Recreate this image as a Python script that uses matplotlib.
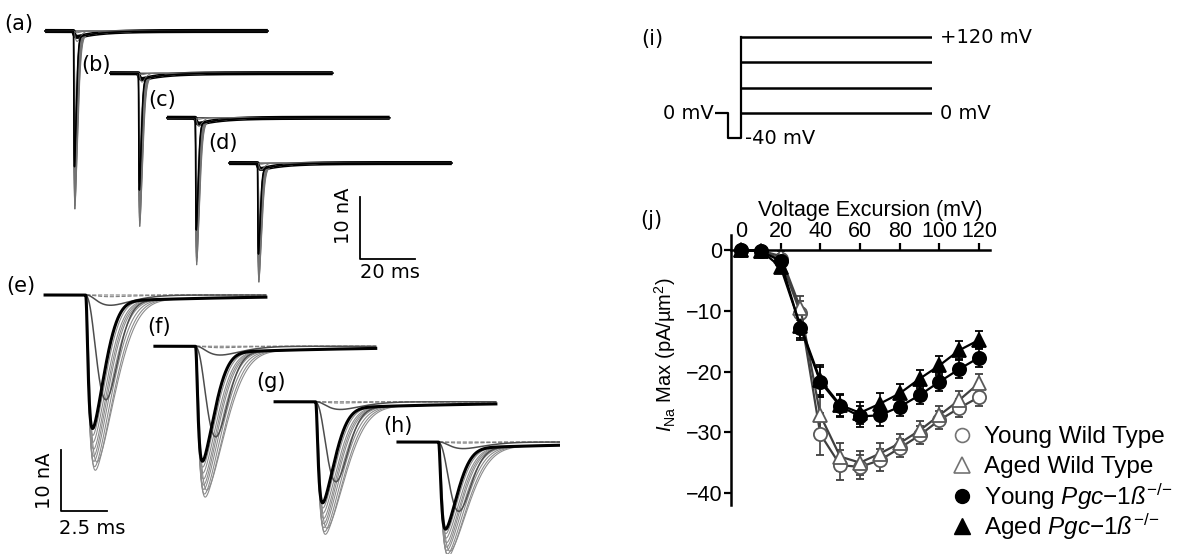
import numpy as np
import matplotlib
matplotlib.use('Agg')
import matplotlib.pyplot as plt
from matplotlib.lines import Line2D

plt.rcParams['font.family'] = ['DejaVu Sans']
plt.rcParams['mathtext.fontset'] = 'custom'
plt.rcParams['mathtext.rm'] = 'Liberation Sans'
plt.rcParams['mathtext.it'] = 'Liberation Sans:italic'
plt.rcParams['mathtext.bf'] = 'Liberation Sans:bold'

W, H = 1180, 554

# ============================================================
# DATA
# ============================================================
# (j) peak Na current density vs voltage excursion
volt = [0, 10, 20, 30, 40, 50, 60, 70, 80, 90, 100, 110, 120]
ywt = [0.0, -0.1, -1.5, -10.4, -30.3, -35.4, -35.7, -34.6, -32.6, -30.5, -28.0, -26.0, -24.2]
awt = [0.0, -0.1, -1.0, -9.6, -27.2, -34.0, -35.0, -33.5, -31.8, -29.7, -27.2, -24.7, -21.9]
ypgc = [0.0, -0.2, -1.8, -12.8, -21.7, -25.7, -27.4, -27.2, -25.8, -23.9, -21.7, -19.6, -17.7]
apgc = [0.0, -0.1, -2.8, -12.5, -21.4, -25.5, -26.8, -25.3, -23.6, -21.2, -19.0, -16.5, -14.8]
ywt_err = [0.3, 0.3, 0.8, 2.0, 3.5, 2.5, 2.0, 1.8, 1.5, 1.5, 1.5, 1.5, 1.5]
awt_err = [0.3, 0.3, 0.8, 2.0, 3.0, 2.3, 2.0, 1.8, 1.5, 1.5, 1.5, 1.5, 1.5]
ypgc_err = [0.3, 0.3, 0.8, 2.0, 2.5, 1.8, 1.8, 1.8, 1.6, 1.5, 1.5, 1.5, 1.5]
apgc_err = [0.3, 0.3, 0.8, 2.0, 2.5, 1.8, 1.8, 1.8, 1.6, 1.5, 1.5, 1.5, 1.5]
group_names = ['Young Wild Type', 'Aged Wild Type',
               r'Young $\mathit{Pgc{-}1ß}^{{-}/{-}}$', r'Aged $\mathit{Pgc{-}1ß}^{{-}/{-}}$']

# (a)-(h) current families: relative peak and kinetics per voltage step
rel_amp = [0.0, 0.01, 0.06, 0.58, 0.95, 1.0, 0.98, 0.95, 0.92, 0.88, 0.84, 0.80, 0.76]
tau_act = [0.5, 0.5, 0.5, 0.7, 0.15, 0.12, 0.11, 0.1, 0.1, 0.1, 0.09, 0.09, 0.09]
tau_inact = [2.5, 2.5, 2.5, 1.4, 1.9, 1.8, 1.7, 1.6, 1.5, 1.45, 1.4, 1.3, 1.2]
peak_slow_nA = [28, 24, 21, 18]      # (e) (f) (g) (h)
peak_fast_nA = [28, 24, 23, 18.5]    # (a) (b) (c) (d)
tail_nA = 1.2
tail_ms = 8.0
onset_fast_ms = 10.3
onset_slow_ms = 2.2
window_fast_ms = 81
window_slow_ms = 12

# (i) voltage protocol
hold_mv = 0
prepulse_mv = -40
step_levels = [0, 40, 80, 120]
hold_end, pre_end, test_end = 2.0, 4.0, 33.4


def na_family(t, onset, peak):
    """Current traces (nA) for each voltage step, plus the shared slow tail."""
    tt = np.clip(t - onset, 0, None)
    tg = np.linspace(0, 12, 24001)
    tail = -tail_nA * (1 - np.exp(-tt / 0.5)) * np.exp(-tt / tail_ms)
    out = []
    for ra, tm, th in zip(rel_amp, tau_act, tau_inact):
        ref = ((1 - np.exp(-tg / tm)) ** 3 * np.exp(-(tg / th) ** 2)).max()
        shape = (1 - np.exp(-tt / tm)) ** 3 * np.exp(-(tt / th) ** 2) / ref
        out.append(-peak * ra * shape + tail * (ra > 0.3))
    return out, tail


fig = plt.figure(figsize=(W / 100, H / 100), dpi=100)


def fx(px):
    return px / W


def fy(py):
    return 1 - py / H


# ============================================================
# (a)-(d): long time base
# ============================================================
px_ms_fast, px_nA_fast = 2.75, 6.2
ax_f = fig.add_axes([0, fy(290), fx(560), 290 / H])
ax_f.set_xlim(0, 560 / px_ms_fast)
ax_f.set_ylim(-290 / px_nA_fast, 0)
ax_f.axis('off')
fast_off_t = [16.4, 40.0, 60.7, 83.3]
fast_off_i = [-5.0, -11.8, -19.0, -26.3]
t_fast = np.linspace(0, window_fast_ms, 16201)
for pk, ot, oi in zip(peak_fast_nA, fast_off_t, fast_off_i):
    fam, tail = na_family(t_fast, onset_fast_ms, pk)
    ax_f.plot(t_fast + ot, tail + oi, color='black', lw=3.0, solid_capstyle='butt')
    for k, tr in enumerate(fam):
        ax_f.plot(t_fast + ot, tr + oi, color='0.45' if 0 < k < len(fam) - 1 else 'black', lw=0.7)
    ax_f.plot(t_fast + ot, fam[-1] + oi, color='black', lw=1.1)

# scale bar 10 nA / 20 ms
sb_t, sb_i = 130.9, -41.8
ax_f.plot([sb_t, sb_t, sb_t + 20], [sb_i + 10, sb_i, sb_i], color='black', lw=1.3)
fig.text(fx(343), fy(216), '10 nA', rotation=90, ha='center', va='center', fontsize=14)
fig.text(fx(390), fy(273), '20 ms', ha='center', va='center', fontsize=14)

# ============================================================
# (e)-(h): short time base
# ============================================================
px_ms_slow, px_nA_slow = 18.4, 6.1
ax_s = fig.add_axes([0, 0, fx(560), 284 / H])
ax_s.set_xlim(0, 560 / px_ms_slow)
ax_s.set_ylim(-284 / px_nA_slow, 0)
ax_s.axis('off')
slow_off_t = [2.45, 8.42, 14.95, 21.63]
slow_off_i = [-4.1, -12.5, -21.6, -28.2]
t_slow = np.linspace(0, window_slow_ms, 6001)
for pk, ot, oi in zip(peak_slow_nA, slow_off_t, slow_off_i):
    fam, tail = na_family(t_slow, onset_slow_ms, pk)
    for k, tr in enumerate(fam[:-1]):
        if rel_amp[k] < 0.05:
            ax_s.plot(t_slow + ot, tr + oi, color='0.5', lw=0.8, ls='--')
        elif rel_amp[k] < 0.7:
            ax_s.plot(t_slow + ot, tr + oi, color='0.3', lw=1.1, zorder=3)
        else:
            ax_s.plot(t_slow + ot, tr + oi, color='0.55', lw=0.8)
    ax_s.plot(t_slow + ot, fam[-1] + oi, color='black', lw=2.2, zorder=4)

sb2_t, sb2_i = 61 / px_ms_slow, -(511 - 270) / px_nA_slow
ax_s.plot([sb2_t, sb2_t, sb2_t + 2.5], [sb2_i + 10, sb2_i, sb2_i], color='black', lw=1.3)
fig.text(fx(45), fy(481), '10 nA', rotation=90, ha='center', va='center', fontsize=14)
fig.text(fx(92), fy(528), '2.5 ms', ha='center', va='center', fontsize=14)

# panel letters
letters = ['(a)', '(b)', '(c)', '(d)', '(e)', '(f)', '(g)', '(h)', '(i)', '(j)']
letter_px = [(19, 24), (96, 65), (162, 100), (223, 143),
             (21, 286), (159, 327), (271, 382), (398, 426),
             (652, 39), (651, 220)]
for lab, (x, y) in zip(letters, letter_px):
    fig.text(fx(x), fy(y), lab, ha='center', va='center', fontsize=15)

# ============================================================
# (i): voltage protocol
# ============================================================
ax_p = fig.add_axes([fx(715), fy(144.7), fx(217), 114 / H])
ax_p.set_xlim(0, test_end)
ax_p.set_ylim(-50, 130)
ax_p.axis('off')
ax_p.plot([0, hold_end, hold_end, pre_end, pre_end],
          [hold_mv, hold_mv, prepulse_mv, prepulse_mv, max(step_levels)],
          color='black', lw=1.6)
for lv in step_levels:
    ax_p.plot([pre_end, test_end], [lv, lv], color='black', lw=1.8)
ax_p.annotate('0 mV', (0, hold_mv), xytext=(-1, 0), textcoords='offset points',
              ha='right', va='center', fontsize=14)
ax_p.annotate('-40 mV', (pre_end, prepulse_mv), xytext=(3, 0), textcoords='offset points',
              ha='left', va='center', fontsize=14)
ax_p.annotate('+120 mV', (test_end, max(step_levels)), xytext=(6, 0), textcoords='offset points',
              ha='left', va='center', fontsize=14)
ax_p.annotate('0 mV', (test_end, min(step_levels)), xytext=(6, 0), textcoords='offset points',
              ha='left', va='center', fontsize=14)

# ============================================================
# (j): I-V relationship
# ============================================================
axj = fig.add_axes([fx(731), fy(505.2), fx(259), 270.4 / H])
axj.set_xlim(-5, 125.5)
axj.set_ylim(-42, 2.5)
series = [
    (ywt, ywt_err, 'o', 'white', '0.35', '0.25'),
    (awt, awt_err, '^', 'white', '0.35', '0.25'),
    (ypgc, ypgc_err, 'o', 'black', 'black', 'black'),
    (apgc, apgc_err, '^', 'black', 'black', 'black'),
]
for vals, err, mk, fc, ec, lc in series:
    axj.errorbar(volt, vals, yerr=err, marker=mk, ms=9.5, mfc=fc, mec=ec, mew=1.3,
                 color=lc, lw=1.6, ecolor=lc, elinewidth=1.2, capsize=3, capthick=1.2)

for s in ['right', 'bottom']:
    axj.spines[s].set_visible(False)
axj.spines['top'].set_position(('data', 0))
for s in ['top', 'left']:
    axj.spines[s].set_linewidth(1.8)
axj.xaxis.tick_top()
axj.xaxis.set_label_position('top')
axj.set_xticks(range(0, 121, 20))
axj.set_yticks([0, -10, -20, -30, -40])
axj.tick_params(width=1.6, length=5, labelsize=15.5, pad=1, labelfontfamily='Liberation Sans')
axj.set_xlabel('Voltage Excursion (mV)', fontsize=15.5, family='Liberation Sans', labelpad=3)
axj.xaxis.set_label_coords(0.537, 1.07)
axj.set_ylabel(r'$I_{\mathrm{Na}}$ Max (pA/µm$^2$)', fontsize=14.5, family='Liberation Sans')
axj.yaxis.set_label_coords(-0.205, 0.555)

# legend: one row per group, evenly spaced
handles = [
    Line2D([], [], ls='none', marker='o', ms=10, mfc='white', mec='0.45', mew=1.2),
    Line2D([], [], ls='none', marker='^', ms=11, mfc='white', mec='0.45', mew=1.2),
    Line2D([], [], ls='none', marker='o', ms=10, mfc='black', mec='black'),
    Line2D([], [], ls='none', marker='^', ms=11, mfc='black', mec='black'),
]
legend_rows_px = [437, 467, 497, 527]
for hd, name, row in zip(handles, group_names, legend_rows_px):
    lg = fig.legend([hd], [name], loc='center left', bbox_to_anchor=(fx(951), fy(row)),
                    frameon=False, prop={'family': 'Liberation Sans', 'size': 17.5},
                    handletextpad=0.45, handlelength=0.9, borderaxespad=0, borderpad=0)

fig.savefig('out.png', dpi=100)
